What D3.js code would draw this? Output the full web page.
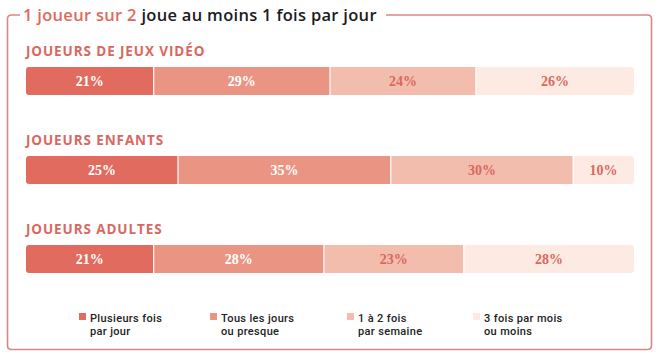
<!DOCTYPE html>
<html>
<head>
<meta charset="utf-8">
<script src="https://cdn.jsdelivr.net/npm/d3@7"></script>
<style>
  body { margin: 0; background: #fff; }
  svg { display: block; }
</style>
</head>
<body>
<svg id="chart" width="661" height="359"></svg>
<script>
// Data
const categories = ["JOUEURS DE JEUX VIDÉO", "JOUEURS ENFANTS", "JOUEURS ADULTES"];
const seriesNames = ["Plusieurs fois par jour", "Tous les jours ou presque", "1 à 2 fois par semaine", "3 fois par mois ou moins"];
const legendLines = [["Plusieurs fois", "par jour"], ["Tous les jours", "ou presque"], ["1 à 2 fois", "par semaine"], ["3 fois par mois", "ou moins"]];
const plusieursFois = [21, 25, 21];
const tousLesJours = [29, 35, 28];
const unADeuxFois = [24, 30, 23];
const troisFoisParMois = [26, 10, 28];

const colors = ["#e26b5f", "#ea9583", "#f3bdae", "#fdebe3"];
const textColors = ["#ffffff", "#ffffff", "#d9675c", "#d9675c"];
const coral = "#e0695d";
const frameColor = "#d98686";

const svg = d3.select("#chart");

// Build rows from the arrays
const rows = categories.map((c, i) => {
    const vals = [plusieursFois[i], tousLesJours[i], unADeuxFois[i], troisFoisParMois[i]];
    let acc = 0;
    const segs = vals.map((v, k) => {
        const s = { key: k, x0: acc, x1: acc + v, value: v };
        acc += v;
        return s;
    });
    return { name: c, segs: segs };
});

const x = d3.scaleLinear().domain([0, 100]).range([26, 634]);
const y = d3.scalePoint().domain(categories).range([67, 245]);
const barH = 28;

// Frame
const fx0 = 7.5, fx1 = 651.5, fy0 = 15, fy1 = 349.5, r = 4;
svg.append("path")
    .attr("d", `M386,${fy0} H${fx1 - r} Q${fx1},${fy0} ${fx1},${fy0 + r} V${fy1 - r} Q${fx1},${fy1} ${fx1 - r},${fy1} H${fx0 + r} Q${fx0},${fy1} ${fx0},${fy1 - r} V${fy0 + r} Q${fx0},${fy0} ${fx0 + r},${fy0} H20`)
    .attr("fill", "none")
    .attr("stroke", frameColor)
    .attr("stroke-width", 1.6);

// Title
const title = svg.append("text")
    .attr("x", 23)
    .attr("y", 21)
    .attr("font-family", "'Open Sans', sans-serif")
    .attr("font-weight", 600)
    .attr("font-size", 16.5)
    .attr("letter-spacing", 0.3);
title.append("tspan").attr("fill", coral).text("1 joueur sur 2 ");
title.append("tspan").attr("fill", "#1b1b1b").text("joue au moins 1 fois par jour");

// Clip paths for rounded bars
const defs = svg.append("defs");
rows.forEach((row, i) => {
    defs.append("clipPath").attr("id", "clip" + i)
        .append("rect")
        .attr("x", x(0))
        .attr("y", y(row.name))
        .attr("width", x(100) - x(0))
        .attr("height", barH)
        .attr("rx", 3);
});

const rowG = svg.selectAll(".row")
    .data(rows)
    .enter()
    .append("g")
    .attr("class", "row");

// Section labels
rowG.append("text")
    .attr("x", x(0))
    .attr("y", d => y(d.name) - 11)
    .attr("font-family", "'Open Sans', sans-serif")
    .attr("font-weight", 700)
    .attr("font-size", 13.5)
    .attr("letter-spacing", 0.9)
    .attr("fill", "#d9685f")
    .text(d => d.name);

// Segments
rowG.each(function (row, i) {
    const g = d3.select(this).append("g").attr("clip-path", `url(#clip${i})`);
    g.selectAll("rect")
        .data(row.segs)
        .enter()
        .append("rect")
        .attr("x", d => x(d.x0))
        .attr("y", y(row.name))
        .attr("width", d => x(d.x1) - x(d.x0))
        .attr("height", barH)
        .attr("fill", d => colors[d.key]);

    // white separators
    g.selectAll("line")
        .data(row.segs.slice(1))
        .enter()
        .append("line")
        .attr("x1", d => x(d.x0))
        .attr("x2", d => x(d.x0))
        .attr("y1", y(row.name))
        .attr("y2", y(row.name) + barH)
        .attr("stroke", "#fff")
        .attr("stroke-width", 1.2);

    d3.select(this).selectAll(".val")
        .data(row.segs)
        .enter()
        .append("text")
        .attr("class", "val")
        .attr("x", d => (x(d.x0) + x(d.x1)) / 2)
        .attr("y", y(row.name) + barH / 2 + 5)
        .attr("text-anchor", "middle")
        .attr("font-family", "'Liberation Serif', serif")
        .attr("font-weight", 700)
        .attr("font-size", 14)
        .attr("fill", d => textColors[d.key])
        .text(d => d.value + "%");
});

// Legend
const legendX = [79, 210, 347, 473];
const legend = svg.selectAll(".legend")
    .data(seriesNames)
    .enter()
    .append("g")
    .attr("class", "legend")
    .attr("transform", (d, i) => `translate(${legendX[i]},313)`);

legend.append("rect")
    .attr("width", 7)
    .attr("height", 7)
    .attr("fill", (d, i) => colors[i]);

legend.each(function (d, i) {
    d3.select(this).selectAll("text")
        .data(legendLines[i])
        .enter()
        .append("text")
        .attr("x", 11)
        .attr("y", (line, k) => 8.5 + k * 13)
        .attr("font-family", "Roboto, sans-serif")
        .attr("font-weight", 500)
        .attr("font-size", 11)
        .attr("letter-spacing", 0.35)
        .attr("fill", "#222")
        .text(line => line);
});
</script>
</body>
</html>
